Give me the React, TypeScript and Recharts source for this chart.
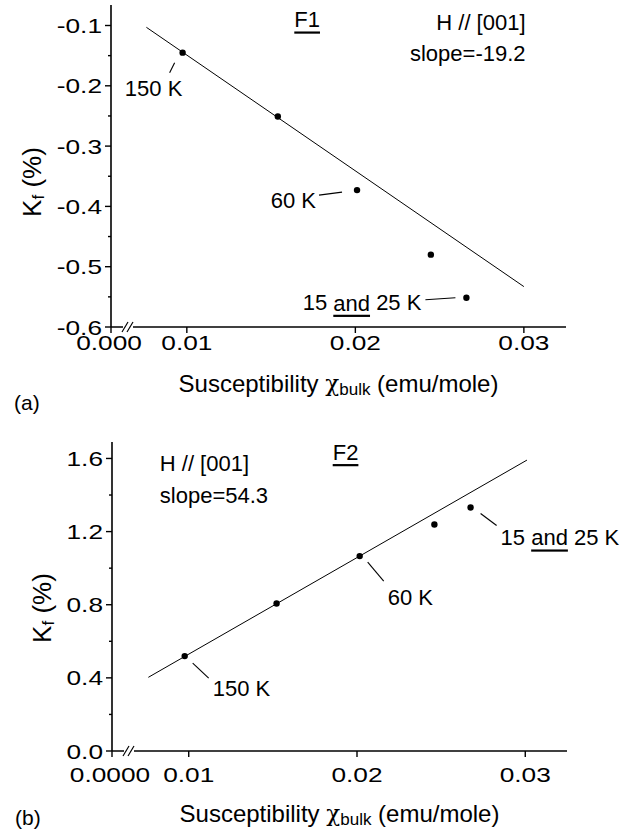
import React from 'react';
import { ScatterChart, Scatter, XAxis, YAxis, ReferenceDot } from 'recharts';

const FONT = '"Liberation Sans", Arial, Helvetica, sans-serif';

// panel (a) - F1
const susA = [0.00975, 0.0154, 0.0201, 0.02448, 0.02659];
const kfA = [-0.145, -0.251, -0.373, -0.48, -0.5515];
const fitXA = [0.0076, 0.03];
const fitYA = [-0.103, -0.533];
const yTicksA = [-0.6, -0.55, -0.5, -0.45, -0.4, -0.35, -0.3, -0.25, -0.2, -0.15, -0.1];
const yLabelsA = ['-0.6', '', '-0.5', '', '-0.4', '', '-0.3', '', '-0.2', '', '-0.1'];

// panel (b) - F2
const susB = [0.00976, 0.01522, 0.02016, 0.0246, 0.02675];
const kfB = [0.519, 0.807, 1.066, 1.239, 1.332];
const fitXB = [0.0076, 0.0301];
const fitYB = [0.403, 1.591];
const yTicksB = [0, 0.2, 0.4, 0.6, 0.8, 1.0, 1.2, 1.4, 1.6];
const yLabelsB = ['0.0', '', '0.4', '', '0.8', '', '1.2', '', '1.6'];

const xTicks = [0.0055, 0.01, 0.02, 0.03];
const xLabelsA = ['0.000', '0.01', '0.02', '0.03'];
const xLabelsB = ['0.0000', '0.01', '0.02', '0.03'];

const ptsA = susA.map((x, i) => ({ x, y: kfA[i] }));
const ptsB = susB.map((x, i) => ({ x, y: kfB[i] }));
const lineA = fitXA.map((x, i) => ({ x, y: fitYA[i] }));
const lineB = fitXB.map((x, i) => ({ x, y: fitYB[i] }));

// tick labels in the original are set in a wide face; stretch them a bit
const WideText = ({ x, y, anchor, children }: any) => (
  <text
    transform={`translate(${x}, ${y}) scale(1.25, 1)`}
    x={0}
    y={0}
    textAnchor={anchor}
    dominantBaseline="central"
    fontSize={21}
    fontFamily={FONT}
    fill="#000"
  >
    {children}
  </text>
);

const makeXTick = (labels: string[], labelDy: number) => (props: any) => {
  const { x, y, index } = props;
  return (
    <g>
      <line x1={x} y1={y} x2={x} y2={y + 6} stroke="#000" strokeWidth={1.4} />
      {index === 0 && (
        <g>
          <rect x={x + 12} y={y - 4} width={10} height={8} fill="#fff" />
          <line x1={x + 11} y1={y + 5} x2={x + 17} y2={y - 5} stroke="#000" strokeWidth={1.2} />
          <line x1={x + 16} y1={y + 5} x2={x + 22} y2={y - 5} stroke="#000" strokeWidth={1.2} />
        </g>
      )}
      <WideText x={index === 0 ? x - 2 : x} y={y + labelDy} anchor="middle">
        {labels[index]}
      </WideText>
    </g>
  );
};

const makeYTick = (labels: string[]) => (props: any) => {
  const { x, y, index } = props;
  const major = labels[index] !== '';
  return (
    <g>
      <line x1={x} y1={y} x2={x - (major ? 6 : 3)} y2={y} stroke="#000" strokeWidth={1.4} />
      {major && (
        <WideText x={x - 9} y={y} anchor="end">
          {labels[index]}
        </WideText>
      )}
    </g>
  );
};

const xTitle = (dy: number) => (props: any) => {
  const vb = props.viewBox;
  return (
    <text
      x={vb.x + vb.width / 2}
      y={vb.y + dy}
      textAnchor="middle"
      dominantBaseline="central"
      fontSize={24}
      fontFamily={FONT}
      fill="#000"
    >
      Susceptibility{' '}
      <tspan fontFamily='"DejaVu Serif", serif' fontSize={23}>
        χ
      </tspan>
      <tspan dy={6} fontSize={17}>
        bulk
      </tspan>
      <tspan dy={-6}> (emu/mole)</tspan>
    </text>
  );
};

const yTitle = (cx: number, cy: number) => () => (
  <text
    x={cx}
    y={cy}
    transform={`rotate(-90, ${cx}, ${cy})`}
    textAnchor="middle"
    dominantBaseline="central"
    fontSize={26}
    fontFamily={FONT}
    fill="#000"
  >
    K
    <tspan dy={6} fontSize={17}>
      f
    </tspan>
    <tspan dy={-6}> (%)</tspan>
  </text>
);

const dot = (props: any) => <circle cx={props.cx} cy={props.cy} r={3.2} fill="#000" />;
const noDot = () => <g />;

const note = (
  text: React.ReactNode,
  anchor: 'start' | 'middle' | 'end',
  tx: number,
  ty: number,
  lead?: [number, number, number, number],
  size = 22
) => (props: any) => {
  const { cx, cy } = props;
  return (
    <g>
      {lead && (
        <line
          x1={cx + lead[0]}
          y1={cy + lead[1]}
          x2={cx + lead[2]}
          y2={cy + lead[3]}
          stroke="#000"
          strokeWidth={1.1}
        />
      )}
      <text
        x={cx + tx}
        y={cy + ty}
        textAnchor={anchor}
        dominantBaseline="central"
        fontSize={size}
        fontFamily={FONT}
        fill="#000"
      >
        {text}
      </text>
    </g>
  );
};

const andText = (
  <>
    15 <tspan textDecoration="underline">and</tspan> 25 K
  </>
);

const axisCommon = {
  stroke: '#000',
  strokeWidth: 1.6,
  tickSize: 0,
  tickMargin: 0,
  tickLine: false,
  interval: 0 as const,
};

export default function App() {
  return (
    <div style={{ position: 'absolute', left: 0, top: 0, width: 644, height: 837, background: '#fff' }}>
      <div style={{ position: 'absolute', left: 0, top: 0 }}>
        <ScatterChart width={644} height={400} margin={{ top: 5, right: 78, left: 0, bottom: 0 }}>
          <XAxis
            type="number"
            dataKey="x"
            domain={[0.0055, 0.0325]}
            ticks={xTicks}
            height={73}
            tick={makeXTick(xLabelsA, 15)}
            label={{ content: xTitle(56) }}
            {...axisCommon}
          />
          <YAxis
            type="number"
            dataKey="y"
            domain={[-0.6, -0.066]}
            ticks={yTicksA}
            width={111}
            tick={makeYTick(yLabelsA)}
            label={{ content: yTitle(32, 182) }}
            {...axisCommon}
          />
          <Scatter data={lineA} line={{ stroke: '#000', strokeWidth: 1 }} shape={noDot} isAnimationActive={false} />
          <Scatter data={ptsA} shape={dot} isAnimationActive={false} />
          <ReferenceDot x={0.01714} y={-0.09} shape={note(<tspan textDecoration="underline">F1</tspan>, 'middle', 0, 0)} />
          <ReferenceDot x={0.0301} y={-0.095} shape={note('H // [001]', 'end', 0, 0)} />
          <ReferenceDot x={0.0301} y={-0.1464} shape={note('slope=-19.2', 'end', 0, 0)} />
          <ReferenceDot x={susA[0]} y={kfA[0]} shape={note('150 K', 'middle', -29, 36, [-8, 10, -13, 20])} />
          <ReferenceDot x={susA[2]} y={kfA[2]} shape={note('60 K', 'end', -41, 10, [-38, 5, -15, 2])} />
          <ReferenceDot x={susA[4]} y={kfA[4]} shape={note(andText, 'end', -45, 5, [-41, 2, -11, 0])} />
        </ScatterChart>
      </div>
      <div
        style={{ position: 'absolute', left: 14, top: 391, fontFamily: FONT, fontSize: 21, lineHeight: '24px' }}
      >
        (a)
      </div>
      <div style={{ position: 'absolute', left: 0, top: 400 }}>
        <ScatterChart width={644} height={437} margin={{ top: 42, right: 77, left: 0, bottom: 0 }}>
          <XAxis
            type="number"
            dataKey="x"
            domain={[0.00544, 0.03248]}
            ticks={[0.00544, 0.01, 0.02, 0.03]}
            height={86}
            tick={makeXTick(xLabelsB, 23)}
            label={{ content: xTitle(62) }}
            {...axisCommon}
          />
          <YAxis
            type="number"
            dataKey="y"
            domain={[0, 1.69]}
            ticks={yTicksB}
            width={112}
            tick={makeYTick(yLabelsB)}
            label={{ content: yTitle(42, 208) }}
            {...axisCommon}
          />
          <Scatter data={lineB} line={{ stroke: '#000', strokeWidth: 1 }} shape={noDot} isAnimationActive={false} />
          <Scatter data={ptsB} shape={dot} isAnimationActive={false} />
          <ReferenceDot x={0.01932} y={1.635} shape={note(<tspan textDecoration="underline">F2</tspan>, 'middle', 0, 0)} />
          <ReferenceDot x={0.00828} y={1.575} shape={note('H // [001]', 'start', 0, 0)} />
          <ReferenceDot x={0.00828} y={1.4} shape={note('slope=54.3', 'start', 0, 0)} />
          <ReferenceDot x={susB[0]} y={kfB[0]} shape={note('150 K', 'start', 28, 32, [8, 7, 24, 22])} />
          <ReferenceDot x={susB[2]} y={kfB[2]} shape={note('60 K', 'start', 28, 41, [8, 6, 24, 25])} />
          <ReferenceDot x={susB[4]} y={kfB[4]} shape={note(andText, 'start', 30, 30, [10, 6, 26, 18])} />
        </ScatterChart>
      </div>
      <div
        style={{ position: 'absolute', left: 15, top: 806, fontFamily: FONT, fontSize: 21, lineHeight: '24px' }}
      >
        (b)
      </div>
    </div>
  );
}
